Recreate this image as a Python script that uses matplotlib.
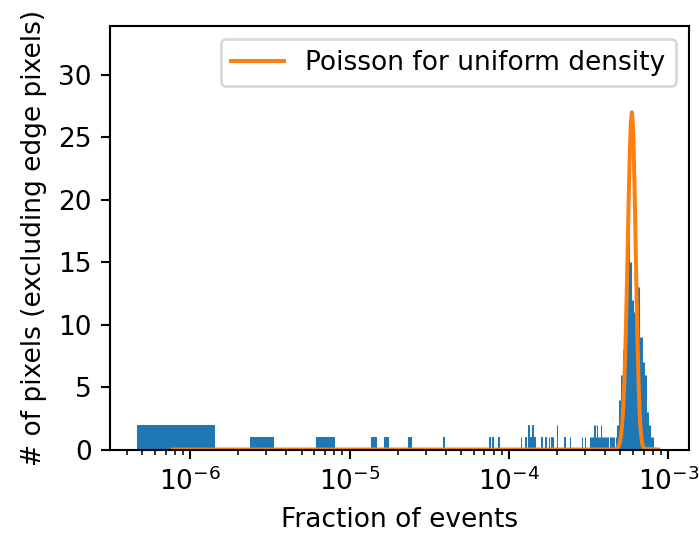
import numpy as np
import matplotlib
matplotlib.use("Agg")
import matplotlib.pyplot as plt

# fraction of events per pixel and number of pixels
# isolated low-fraction pixels
tail_frac = [9.3e-7, 2.82e-6, 6.6e-6, 7.55e-6, 1.39e-5, 1.66e-5, 2.40e-5,
             3.87e-5, 7.53e-5, 7.87e-5, 8.58e-5, 1.188e-4, 1.268e-4, 1.324e-4,
             1.365e-4, 1.403e-4, 1.444e-4, 1.595e-4, 1.69e-4, 1.79e-4,
             1.84e-4, 1.89e-4, 1.99e-4, 2.23e-4, 2.40e-4, 2.85e-4]
tail_npix = [2, 1, 1, 1, 1, 1, 1,
             1, 1, 1, 1, 1, 1, 2,
             1, 2, 1, 1, 1, 1,
             1, 1, 2, 1, 1, 1]

# the main bump around 6e-4
peak_frac = [3.001e-4, 3.226e-4, 3.273e-4, 3.321e-4, 3.369e-4, 3.418e-4,
             3.468e-4, 3.519e-4, 3.570e-4, 3.622e-4, 3.675e-4, 3.728e-4,
             3.783e-4, 3.838e-4, 3.894e-4, 3.950e-4, 4.008e-4, 4.066e-4,
             4.125e-4, 4.185e-4, 4.308e-4, 4.371e-4, 4.435e-4, 4.499e-4,
             4.565e-4, 4.699e-4, 4.767e-4, 4.837e-4, 4.907e-4, 4.979e-4,
             5.051e-4, 5.125e-4, 5.200e-4, 5.275e-4, 5.352e-4, 5.430e-4,
             5.509e-4, 5.590e-4, 5.671e-4, 5.754e-4, 5.837e-4, 5.922e-4,
             6.009e-4, 6.096e-4, 6.185e-4, 6.275e-4, 6.366e-4, 6.459e-4,
             6.553e-4, 6.648e-4, 6.745e-4, 6.843e-4, 6.943e-4, 7.044e-4,
             7.147e-4, 7.251e-4, 7.356e-4, 7.463e-4, 7.572e-4, 7.682e-4,
             7.794e-4, 7.908e-4, 8.023e-4]
peak_npix = [1, 1, 1, 1, 1, 2,
             2, 1, 2, 1, 1, 1,
             2, 1, 1, 1, 1, 1,
             1, 1, 1, 1, 1, 1,
             1, 1, 2, 2, 4, 4,
             6, 6, 8, 10, 13, 13,
             19, 19, 19, 15, 15, 12,
             12, 11, 12, 13, 13, 13,
             13, 9, 9, 9, 7, 7,
             6, 6, 3, 3, 2, 2,
             1, 1, 1]

# Poisson expectation curve
pois_x = [7.7e-7, 4.63e-4, 4.714e-4, 4.798e-4, 4.882e-4, 4.966e-4, 5.05e-4,
          5.134e-4, 5.218e-4, 5.302e-4, 5.386e-4, 5.47e-4, 5.554e-4,
          5.638e-4, 5.722e-4, 5.806e-4, 5.89e-4, 5.974e-4, 6.058e-4,
          6.142e-4, 6.226e-4, 6.31e-4, 6.394e-4, 6.478e-4, 6.562e-4,
          6.646e-4, 6.73e-4, 6.814e-4, 6.898e-4, 6.982e-4, 7.066e-4, 8.6e-4]
pois_y = [0, 0, 0.06, 0.14, 0.30, 0.62, 1.19,
          2.15, 3.65, 5.84, 8.77, 12.36, 16.38,
          20.38, 23.83, 26.17, 27.0, 26.17, 23.83,
          20.38, 16.38, 12.36, 8.77, 5.84, 3.65,
          2.15, 1.19, 0.62, 0.30, 0.14, 0.06, 0]

frac = tail_frac + peak_frac
npix = tail_npix + peak_npix

# linear bins, about 9.45e-7 wide
bin_lo = 4.6e-7
bin_hi = 8.037e-4
nbins = 850
edges = np.linspace(bin_lo, bin_hi, nbins + 1)
counts, _ = np.histogram(frac, bins=edges, weights=npix)
filled = counts > 0

fig = plt.figure(figsize=(699 / 190, 533 / 190), dpi=190)
ax = fig.add_axes([110 / 699, 83.5 / 533, 579 / 699, 423.5 / 533])

# bars get a thin edge so the very narrow bins still show up
ax.bar(edges[:-1][filled], counts[filled], width=np.diff(edges)[filled],
       align="edge", color="C0", edgecolor="C0", linewidth=0.4)
ax.plot(pois_x, pois_y, color="C1", lw=1.5, label="Poisson for uniform density")

ax.set_xscale("log")
ax.set_xlim(3.13e-7, 1.346e-3)
ax.set_ylim(0, 33.9)
ax.set_xlabel("Fraction of events")
ax.set_ylabel("# of pixels (excluding edge pixels)")
ax.legend(loc="upper right")

fig.savefig("out.png", dpi=190)
